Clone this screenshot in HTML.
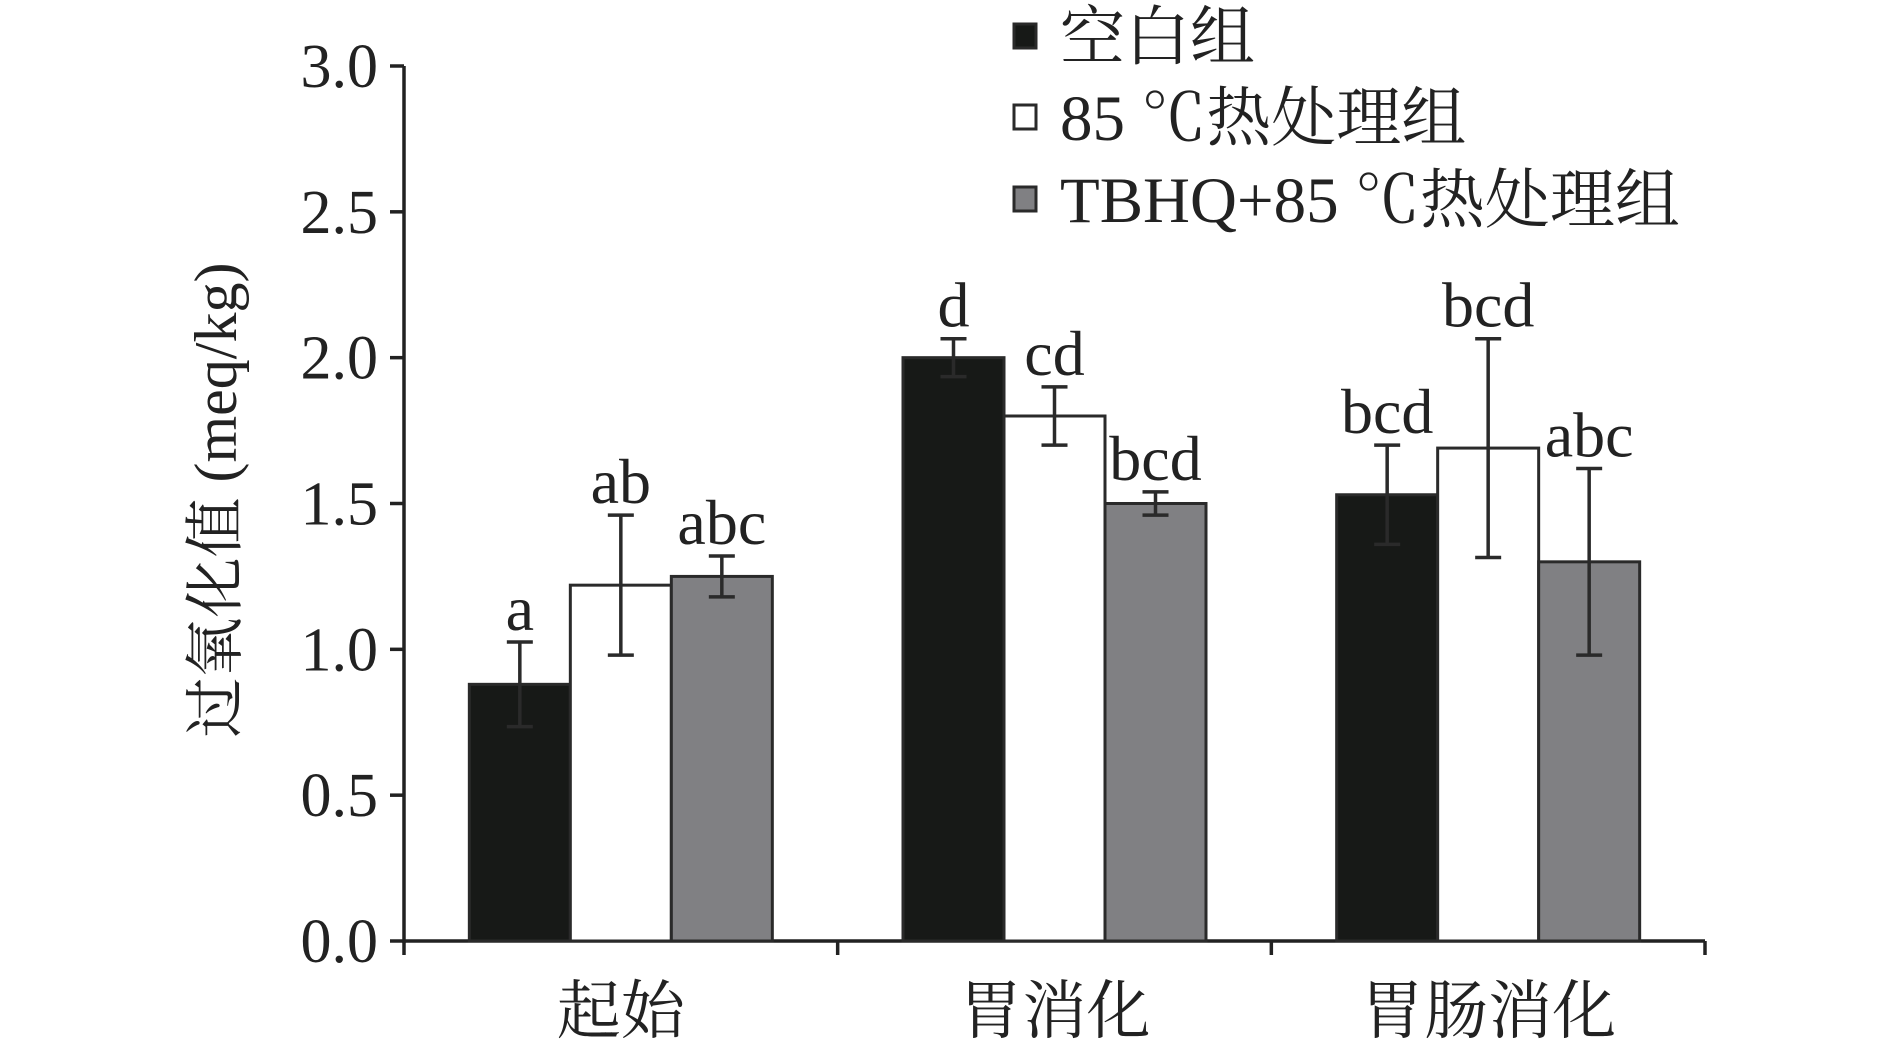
<!DOCTYPE html>
<html><head><meta charset="utf-8"><style>
html,body{margin:0;padding:0;background:#fff;}
svg{display:block;}
text{font-family:"Liberation Serif","Noto Serif CJK SC","Noto Sans CJK SC",serif;fill:#222;}
</style></head><body>
<svg id="chart" width="1890" height="1054" viewBox="0 0 1890 1054">
<g id="axes"></g>
<g id="bars"></g>
<g id="legend"></g>
<text transform="translate(236,500) rotate(-90)" text-anchor="middle" font-size="60">过氧化值 (meq/kg)</text>
</svg>
<script>
const categories = ["起始", "胃消化", "胃肠消化"];
const seriesNames = ["空白组", "85 ℃热处理组", "TBHQ+85 ℃热处理组"];
const blankVals = [0.88, 2.00, 1.53];
const heatVals = [1.22, 1.80, 1.69];
const tbhqVals = [1.25, 1.50, 1.30];
const blankErr = [0.145, 0.065, 0.17];
const heatErr = [0.24, 0.10, 0.375];
const tbhqErr = [0.07, 0.04, 0.32];
const blankSig = ["a", "d", "bcd"];
const heatSig = ["ab", "cd", "bcd"];
const tbhqSig = ["abc", "bcd", "abc"];
const yTicks = [0, 0.5, 1.0, 1.5, 2.0, 2.5, 3.0];
const yTickLabels = ["0.0", "0.5", "1.0", "1.5", "2.0", "2.5", "3.0"];

const NS = "http://www.w3.org/2000/svg";
const X0 = 404, X1 = 1705, Y0 = 941, Y3 = 66;
const catW = (X1 - X0) / categories.length;
const barW = 101;
function y(v){ return Y0 - (v / 3) * (Y0 - Y3); }
function xCat(i){ return X0 + catW * (i + 0.5); }
function mk(tag, attrs, parent){
  const el = document.createElementNS(NS, tag);
  for (const k in attrs) el.setAttribute(k, attrs[k]);
  parent.appendChild(el);
  return el;
}
const axes = document.getElementById('axes');
const bars = document.getElementById('bars');
const legend = document.getElementById('legend');

const series = [
  {vals: blankVals, err: blankErr, sig: blankSig, fill: "#171917", key: "blank"},
  {vals: heatVals, err: heatErr, sig: heatSig, fill: "#ffffff", key: "heat"},
  {vals: tbhqVals, err: tbhqErr, sig: tbhqSig, fill: "#808083", key: "tbhq"}
];

series.forEach((s, si) => {
  categories.forEach((c, ci) => {
    const bx = xCat(ci) - 1.5 * barW + si * barW;
    const by = y(s.vals[ci]);
    const r = mk('rect', {x: bx, y: by, width: barW, height: Y0 - by, fill: s.fill, stroke: "#2a2a2a", 'stroke-width': 3}, bars);
    
    
    const cx = bx + barW / 2;
    const top = y(s.vals[ci] + s.err[ci]), bot = y(s.vals[ci] - s.err[ci]);
    const eg = mk('g', {stroke: "#2a2a2a", 'stroke-width': 3.5}, bars);
    
    
    mk('line', {x1: cx, x2: cx, y1: top, y2: bot}, eg);
    mk('line', {x1: cx - 13, x2: cx + 13, y1: top, y2: top}, eg);
    mk('line', {x1: cx - 13, x2: cx + 13, y1: bot, y2: bot}, eg);
    const t = mk('text', {x: cx, y: top - 12, 'text-anchor': 'middle', 'font-size': 64}, bars);
    t.textContent = s.sig[ci];
    
    
  });
});

let l = mk('line', {x1: X0, x2: X0, y1: Y3, y2: Y0 + 2, stroke: "#222", 'stroke-width': 3.5}, axes);


l = mk('line', {x1: X0, x2: X1, y1: Y0, y2: Y0, stroke: "#222", 'stroke-width': 3.5}, axes);


yTicks.forEach((v, i) => {
  const tk = mk('line', {x1: X0 - 14, x2: X0, y1: y(v), y2: y(v), stroke: "#222", 'stroke-width': 3.5}, axes);
  
  
  const t = mk('text', {x: X0 - 26, y: y(v) + 21, 'text-anchor': 'end', 'font-size': 62}, axes);
  t.textContent = yTickLabels[i];
  
  
});
for (let i = 0; i <= categories.length; i++) {
  const xx = X0 + catW * i;
  const tk = mk('line', {x1: xx, x2: xx, y1: Y0, y2: Y0 + 14, stroke: "#222", 'stroke-width': 3.5}, axes);
  
  
}
categories.forEach((c, ci) => {
  const t = mk('text', {x: xCat(ci), y: 1033, 'text-anchor': 'middle', 'font-size': 64}, axes);
  t.textContent = c;
  
  
});

const legY = [36, 117, 199];
series.forEach((s, si) => {
  const g = mk('g', {}, legend);
  
  
  mk('rect', {x: 1014, y: legY[si] - 12, width: 22, height: 24, fill: s.fill, stroke: "#2a2a2a", 'stroke-width': 3}, g);
  const t = mk('text', {x: 1060, y: legY[si] + 23, 'font-size': 65}, g);
  t.textContent = seriesNames[si];
});
</script>
</body></html>
